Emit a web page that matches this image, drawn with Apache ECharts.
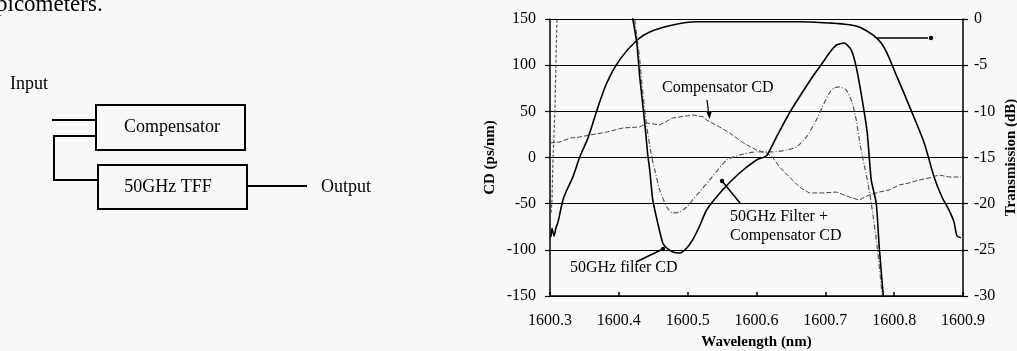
<!DOCTYPE html>
<html><head><meta charset="utf-8">
<script src="https://cdn.jsdelivr.net/npm/echarts@6/dist/echarts.min.js"></script>
<style>html,body{margin:0;padding:0;background:#f8f8f8;overflow:hidden}#c{width:1017px;height:351px;}</style>
</head><body><div id="c"></div>
<script>
// ---- data (wavelength nm, value) ----
const xTicks = [1600.3, 1600.4, 1600.5, 1600.6, 1600.7, 1600.8, 1600.9];
const cdTicks = [-150, -100, -50, 0, 50, 100, 150];
const dbTicks = [-30, -25, -20, -15, -10, -5, 0];

const transmission = [
 [1600.3014,-23.6],[1600.3029,-22.7],[1600.3058,-23.5],[1600.3087,-22.6],[1600.3116,-22.0],
 [1600.3188,-19.6],[1600.3246,-18.5],[1600.3333,-17.1],[1600.3435,-14.9],[1600.3551,-12.9],
 [1600.3681,-9.9],[1600.3826,-6.9],[1600.4014,-4.4],[1600.4261,-2.3],[1600.4449,-1.4],
 [1600.4783,-0.65],[1600.5130,-0.3],[1600.6000,-0.3],[1600.6623,-0.3],[1600.7101,-0.45],
 [1600.7203,-0.5],[1600.7493,-0.87],[1600.7812,-2.6],[1600.8043,-6.3],[1600.8246,-9.9],
 [1600.8435,-13.4],[1600.8580,-17.1],[1600.8696,-19.3],[1600.8797,-20.7],[1600.8870,-22.0],
 [1600.8913,-23.5],[1600.8971,-23.7]
];

const filterCD = [
 [1600.4174,160],[1600.4203,150],[1600.4261,124],[1600.4304,87],[1600.4377,37],
 [1600.4420,3],[1600.4449,-13.5],[1600.4493,-46],[1600.4565,-71],[1600.4638,-92.6],
 [1600.4696,-98],[1600.4783,-102.3],[1600.4884,-103.4],[1600.4986,-98],[1600.5072,-89.3],
 [1600.5174,-74.2],[1600.5275,-56.9],[1600.5507,-35.2],[1600.5754,-16.8],[1600.6000,-2.7],
 [1600.6145,2],[1600.6290,22.2],[1600.6478,48.2],[1600.6623,65.5],[1600.6812,87.2],
 [1600.6957,102.3],[1600.7058,113.2],[1600.7159,121.8],[1600.7275,124],[1600.7377,116.4],
 [1600.7449,98],[1600.7536,62.3],[1600.7609,26.5],[1600.7667,-24.4],[1600.7739,-49.3],
 [1600.7783,-96.9],[1600.7841,-148.9],[1600.7855,-160]
];

const compensatorCD = [
 [1600.3000,15.7],[1600.3145,16.8],[1600.3290,21.1],[1600.3435,22.2],[1600.3580,24.4],
 [1600.3826,27.6],[1600.4058,32.0],[1600.4304,33.1],[1600.4406,37.4],[1600.4594,35.2],
 [1600.4783,42.8],[1600.4986,45.0],[1600.5087,46.0],[1600.5232,43.9],[1600.5275,40.6],
 [1600.5464,33.1],[1600.5609,26.5],[1600.5812,15.7],[1600.6000,8.1],[1600.6145,4.9],
 [1600.6232,0.5],[1600.6333,-10.3],[1600.6478,-21.1],[1600.6623,-31.9],[1600.6768,-38.4],
 [1600.6957,-38.4],[1600.7159,-37.4],[1600.7348,-42.8],[1600.7493,-46.0],[1600.7638,-40.6],
 [1600.7783,-37.4],[1600.7928,-35.2],[1600.8072,-29.8],[1600.8217,-27.6],[1600.8362,-24.4],
 [1600.8507,-22.2],[1600.8652,-19.0],[1600.8797,-21.1],[1600.8971,-21.1]
];

const combinedLeftCD = [
 [1600.3116,160],[1600.3101,150],[1600.3087,105.6],[1600.3072,51.4],[1600.3043,-2.7],
 [1600.3029,-46],[1600.3014,-62]
];
const combinedCD = [
 [1600.4217,160],[1600.4232,148.9],[1600.4304,105.6],[1600.4348,69.9],[1600.4406,33.0],
 [1600.4478,0.5],[1600.4522,-13.5],[1600.4594,-35.2],[1600.4696,-53.6],[1600.4783,-60.1],
 [1600.4884,-59.0],[1600.4986,-53.6],[1600.5072,-46.0],[1600.5319,-24.4],[1600.5565,-2.7],
 [1600.5754,2.7],[1600.6000,6.0],[1600.6232,6.0],[1600.6435,8.1],[1600.6580,11.4],
 [1600.6725,22.2],[1600.6870,40.6],[1600.6957,54.7],[1600.7058,69.9],[1600.7130,75.3],
 [1600.7203,76.4],[1600.7304,73.1],[1600.7391,59.0],[1600.7449,40.6],[1600.7507,13.5],
 [1600.7565,-8.1],[1600.7623,-29.8],[1600.7667,-49.3],[1600.7754,-96.9],[1600.7826,-148.9],
 [1600.7841,-160]
];

const F = '"Liberation Serif", "Times New Roman", serif';
const chart = echarts.init(document.getElementById('c'), null, {renderer:'canvas'});

function txt(x, y, s, size, opts) {
  return {type:'text', x:x, y:y, z:100,
    style:{text:s, fill:'#000', font:(opts&&opts.bold?'bold ':'')+size+'px '+F,
      textAlign:(opts&&opts.align)||'left', textVerticalAlign:'middle'}};
}
function line(pts, w) {
  return {type:'polyline', z:100, shape:{points:pts}, style:{stroke:'#000', lineWidth:w||1, fill:null}};
}
function dot(x, y, r) {
  return {type:'circle', z:100, shape:{cx:x, cy:y, r:r||2}, style:{fill:'#000'}};
}

const graphics = [
  // caption fragment
  txt(-4, 5, 'picometers.', 23),
  // block diagram
  txt(10, 84, 'Input', 18),
  {type:'rect', shape:{x:96, y:105, width:149, height:45}, style:{fill:null, stroke:'#000', lineWidth:2}},
  {type:'rect', shape:{x:98, y:165, width:149, height:44}, style:{fill:null, stroke:'#000', lineWidth:2}},
  txt(172, 127, 'Compensator', 18, {align:'center'}),
  txt(168, 187, '50GHz TFF', 18, {align:'center'}),
  line([[52,120],[96,120]], 2),
  line([[96,136],[54,136],[54,180],[98,180]], 2),
  line([[247,186],[307,186]], 2),
  txt(321, 187, 'Output', 18),
  // chart annotations
  txt(662, 88, 'Compensator CD', 16),
  line([[707,100],[709,116]], 1.2),
  {type:'polygon', z:100, shape:{points:[[706,111],[712,111],[709.5,119]]}, style:{fill:'#000'}},
  line([[877,38],[928,38]], 1.5),
  dot(931, 38, 2.2),
  txt(730, 217, '50GHz Filter +', 16),
  txt(730, 236, 'Compensator CD', 16),
  line([[740,203],[722,181]], 1.5),
  dot(722, 181, 2.2),
  txt(570, 268, '50GHz filter CD', 16),
  line([[636,262],[663,249]], 1.5),
  dot(663, 249, 2.2)
];

const axisLabelStyle = {color:'#000', fontFamily:F, fontSize:16};

chart.setOption({
  backgroundColor:'#f8f8f8',
  animation:false,
  grid:{left:550, right:54, top:19, bottom:55, containLabel:false, outerBoundsMode:'none'},
  xAxis:{
    type:'value', min:xTicks[0], max:xTicks[xTicks.length-1], interval:0.1,
    name:'Wavelength (nm)', nameLocation:'middle', nameGap:39,
    nameTextStyle:{color:'#000', fontFamily:F, fontSize:15, fontWeight:'bold'},
    axisLine:{onZero:false, lineStyle:{color:'#000', width:1.5}},
    axisTick:{inside:true, length:4, lineStyle:{color:'#000', width:1.5}},
    axisLabel:Object.assign({margin:17, formatter:v=>v.toFixed(1)}, axisLabelStyle),
    splitLine:{show:false}
  },
  yAxis:[{
    type:'value', min:cdTicks[0], max:cdTicks[cdTicks.length-1], interval:50, position:'left',
    name:'CD (ps/nm)', nameLocation:'middle', nameGap:52, nameRotate:90,
    nameTextStyle:{color:'#000', fontFamily:F, fontSize:15, fontWeight:'bold'},
    axisLine:{show:true, onZero:false, lineStyle:{color:'#000', width:1.5}},
    axisTick:{show:true, length:5, lineStyle:{color:'#000', width:1.2}},
    axisLabel:Object.assign({margin:14}, axisLabelStyle),
    splitLine:{show:true, lineStyle:{color:'#000', width:1}}
  },{
    type:'value', min:dbTicks[0], max:dbTicks[dbTicks.length-1], interval:5, position:'right',
    name:'Transmission (dB)', nameLocation:'middle', nameGap:41, nameRotate:90,
    nameTextStyle:{color:'#000', fontFamily:F, fontSize:15, fontWeight:'bold'},
    axisLine:{show:true, onZero:false, lineStyle:{color:'#000', width:1.5}},
    axisTick:{show:true, length:5, lineStyle:{color:'#000', width:1.2}},
    axisLabel:Object.assign({margin:11}, axisLabelStyle),
    splitLine:{show:false}
  }],
  series:[
    {type:'line', name:'Transmission', yAxisIndex:1, data:transmission, showSymbol:false, smooth:0.3,
     lineStyle:{color:'#000', width:1.6}, clip:true},
    {type:'line', name:'Compensator CD', data:compensatorCD, showSymbol:false,
     lineStyle:{color:'#444', width:1, type:[5,2]}, clip:true},
    {type:'line', name:'50GHz Filter + Compensator CD', data:combinedCD, showSymbol:false, smooth:0.2,
     lineStyle:{color:'#555', width:1.2, type:[5,2,1,2]}, clip:true},
    {type:'line', name:'50GHz Filter + Compensator CD (edge)', data:combinedLeftCD, showSymbol:false,
     lineStyle:{color:'#555', width:1.2, type:[3,2]}, clip:true},
    {type:'line', name:'50GHz filter CD', data:filterCD, showSymbol:false, smooth:0.2,
     lineStyle:{color:'#000', width:1.6}, clip:true}
  ],
  graphic:graphics
});
</script></body></html>
